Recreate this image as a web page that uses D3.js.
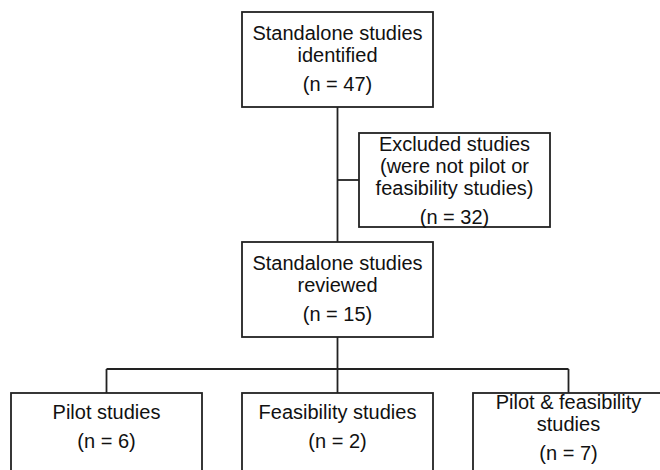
<!DOCTYPE html>
<html>
<head>
<meta charset="utf-8">
<script src="https://cdn.jsdelivr.net/npm/d3@7"></script>
<style>
  html, body { margin: 0; padding: 0; background: #fff; }
  svg { display: block; }
  text { font-family: "Liberation Sans", Arial, sans-serif; font-size: 20px; fill: #111; }
</style>
</head>
<body>
<svg id="chart" width="660" height="470"></svg>
<script>
// ---- data ----
const stageLabels = [["Standalone studies", "identified"], ["Standalone studies", "reviewed"]];
const stageCounts = [47, 15];
const excludedLabel = ["Excluded studies", "(were not pilot or", "feasibility studies)"];
const excludedCount = 32;
const categories = ["Pilot studies", "Feasibility studies", "Pilot & feasibility studies"];
const categoryLines = [["Pilot studies"], ["Feasibility studies"], ["Pilot & feasibility", "studies"]];
const categoryCounts = [6, 2, 7];

// ---- layout ----
const svg = d3.select("#chart");
const stroke = "#222";
const sw = 1.8;
const boxW = 191, boxH = 95;
const lineGap = 22, countGap = 29;

const stageY = d3.scalePoint().domain(stageCounts.map((d, i) => i)).range([12, 242]);
const mainX = 242;
const xBand = d3.scaleBand().domain(categories).range([11, 664]).paddingInner(40 / 231).paddingOuter(0);
const bottomTop = 393;
const bottomH = 100;

function drawBox(x, y, w, h) {
  svg.append("rect").attr("x", x).attr("y", y).attr("width", w).attr("height", h)
    .attr("fill", "#fff").attr("stroke", stroke).attr("stroke-width", sw);
}
function drawText(cx, firstBaseline, lines, count) {
  lines.forEach((t, i) => {
    svg.append("text").attr("x", cx).attr("y", firstBaseline + i * lineGap)
      .attr("text-anchor", "middle").text(t);
  });
  svg.append("text").attr("x", cx).attr("y", firstBaseline + (lines.length - 1) * lineGap + countGap)
    .attr("text-anchor", "middle").text(`(n = ${count})`);
}
function line(x1, y1, x2, y2) {
  svg.append("line").attr("x1", x1).attr("y1", y1).attr("x2", x2).attr("y2", y2)
    .attr("stroke", stroke).attr("stroke-width", sw);
}

const cx = mainX + boxW / 2;
// connectors
line(cx, stageY(0) + boxH, cx, stageY(1));
const exX = 359, exY = 133, exW = 191, exH = 94;
line(cx, exY + 47, exX, exY + 47);
const hY = 369;
line(cx, stageY(1) + boxH, cx, hY);
line(xBand(categories[0]) + xBand.bandwidth() / 2, hY, xBand(categories[2]) + xBand.bandwidth() / 2, hY);
categories.forEach(c => line(xBand(c) + xBand.bandwidth() / 2, hY, xBand(c) + xBand.bandwidth() / 2, bottomTop));

// stage boxes
stageCounts.forEach((n, i) => {
  drawBox(mainX, stageY(i), boxW, boxH);
  drawText(cx, stageY(i) + 28, stageLabels[i], n);
});

// excluded box
drawBox(exX, exY, exW, exH);
drawText(exX + exW / 2, exY + 18, excludedLabel, excludedCount);

// category boxes
categories.forEach((c, i) => {
  drawBox(xBand(c), bottomTop, xBand.bandwidth(), bottomH);
  const lines = categoryLines[i];
  const first = lines.length === 1 ? bottomTop + 26 : bottomTop + 16;
  drawText(xBand(c) + xBand.bandwidth() / 2, first, lines, categoryCounts[i]);
});
</script>
</body>
</html>
